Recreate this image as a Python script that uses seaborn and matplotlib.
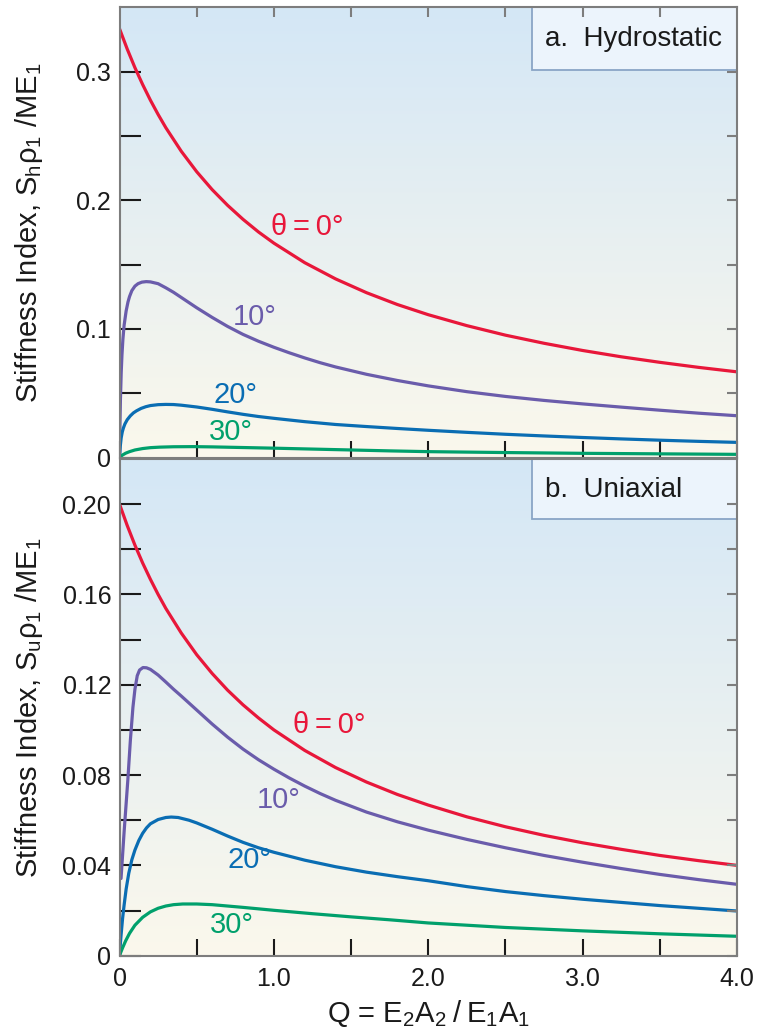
import numpy as np
import pandas as pd
import matplotlib
matplotlib.use("Agg")
import matplotlib.pyplot as plt
from matplotlib.colors import LinearSegmentedColormap
from matplotlib.patches import Rectangle
import seaborn as sns

# --- values ---
# (a) hydrostatic
q_red_a = [0, 0.05, 0.1, 0.15, 0.2, 0.25, 0.3, 0.4, 0.5, 0.6, 0.7, 0.8, 0.9, 1.0,
           1.2, 1.4, 1.6, 1.8, 2.0, 2.25, 2.5, 2.75, 3.0, 3.25, 3.5, 3.75, 4.0]
s_red_a = [0.3333, 0.3175, 0.3030, 0.2899, 0.2778, 0.2667, 0.2564, 0.2381, 0.2222,
           0.2083, 0.1961, 0.1852, 0.1754, 0.1667, 0.1515, 0.1389, 0.1282, 0.1190,
           0.1111, 0.1026, 0.0952, 0.0889, 0.0833, 0.0784, 0.0741, 0.0702, 0.0667]
q_pur_a = [0, 0.003, 0.006, 0.011, 0.016, 0.022, 0.03, 0.043, 0.055, 0.065, 0.08,
           0.1, 0.12, 0.145, 0.173, 0.2, 0.25, 0.3, 0.35, 0.4, 0.45, 0.5, 0.6, 0.7,
           0.8, 0.9, 1.0, 1.1, 1.2, 1.3, 1.4, 1.6, 1.8, 2.0, 2.25, 2.5, 2.75, 3.0,
           3.25, 3.5, 3.75, 4.0]
s_pur_a = [0, 0.026, 0.045, 0.066, 0.080, 0.092, 0.103, 0.114, 0.121, 0.1252,
           0.1298, 0.1333, 0.1352, 0.1364, 0.1368, 0.1366, 0.1352, 0.1320, 0.1285,
           0.1245, 0.1205, 0.1165, 0.1090, 0.1020, 0.0958, 0.0905, 0.0858, 0.0815,
           0.0775, 0.0738, 0.0705, 0.0648, 0.0600, 0.0558, 0.0513, 0.0476, 0.0445,
           0.0418, 0.0393, 0.0369, 0.0346, 0.0326]
q_blu_a = [0, 0.005, 0.011, 0.018, 0.025, 0.035, 0.05, 0.07, 0.09, 0.11, 0.14,
           0.17, 0.2, 0.25, 0.3, 0.35, 0.4, 0.5, 0.6, 0.7, 0.8, 0.9, 1.0, 1.2, 1.4,
           1.6, 1.8, 2.0, 2.25, 2.5, 2.75, 3.0, 3.25, 3.5, 3.75, 4.0]
s_blu_a = [0, 0.009, 0.0155, 0.020, 0.023, 0.0262, 0.0295, 0.0325, 0.0348, 0.0364,
           0.0383, 0.0396, 0.0405, 0.0412, 0.0414, 0.0413, 0.0408, 0.0394, 0.0376,
           0.0356, 0.0337, 0.0320, 0.0306, 0.0280, 0.0258, 0.0242, 0.0227, 0.0213,
           0.0197, 0.0182, 0.0169, 0.0157, 0.0146, 0.0136, 0.0127, 0.0119]
q_grn_a = [0, 0.01, 0.02, 0.04, 0.065, 0.1, 0.15, 0.2, 0.26, 0.35, 0.476, 0.6,
           0.8, 1.0, 1.25, 1.5, 1.75, 2.0, 2.5, 3.0, 3.5, 4.0]
s_grn_a = [0, 0.0012, 0.0021, 0.0035, 0.0047, 0.0060, 0.0071, 0.0078, 0.0082,
           0.0085, 0.0086, 0.0084, 0.0079, 0.0074, 0.0067, 0.0060, 0.0053, 0.0047,
           0.0040, 0.0034, 0.0030, 0.0026]

# (b) uniaxial
q_red_b = q_red_a
s_red_b = [0.2000, 0.1905, 0.1818, 0.1739, 0.1667, 0.1600, 0.1538, 0.1429, 0.1333,
           0.1250, 0.1176, 0.1111, 0.1053, 0.1000, 0.0909, 0.0833, 0.0769, 0.0714,
           0.0667, 0.0615, 0.0571, 0.0533, 0.0500, 0.0471, 0.0444, 0.0421, 0.0400]
q_pur_b = [0.01, 0.03, 0.054, 0.07, 0.087, 0.1, 0.115, 0.13, 0.152, 0.175, 0.2,
           0.25, 0.3, 0.35, 0.4, 0.5, 0.6, 0.7, 0.8, 0.9, 1.0, 1.1, 1.2, 1.3, 1.4,
           1.6, 1.8, 2.0, 2.25, 2.5, 2.75, 3.0, 3.25, 3.5, 3.75, 4.0]
s_pur_b = [0.0342, 0.055, 0.0778, 0.095, 0.1100, 0.1180, 0.1240, 0.1265, 0.1276,
           0.1275, 0.1268, 0.1243, 0.1212, 0.1180, 0.1150, 0.1088, 0.1026, 0.0968,
           0.0915, 0.0868, 0.0826, 0.0787, 0.0751, 0.0718, 0.0688, 0.0636, 0.0593,
           0.0556, 0.0515, 0.0478, 0.0444, 0.0414, 0.0386, 0.0360, 0.0337, 0.0316]
q_blu_b = [0, 0.005, 0.01, 0.02, 0.03, 0.043, 0.06, 0.08, 0.1, 0.125, 0.15, 0.175,
           0.2, 0.25, 0.3, 0.335, 0.38, 0.45, 0.5, 0.6, 0.7, 0.8, 0.9, 1.0, 1.2,
           1.4, 1.6, 1.8, 2.0, 2.25, 2.5, 2.75, 3.0, 3.25, 3.5, 3.75, 4.0]
s_blu_b = [0, 0.0048, 0.009, 0.0165, 0.0225, 0.0295, 0.0365, 0.0425, 0.0468,
           0.0510, 0.0542, 0.0566, 0.0584, 0.0603, 0.0612, 0.0614, 0.0612, 0.0600,
           0.0588, 0.0560, 0.0530, 0.0502, 0.0478, 0.0458, 0.0423, 0.0394, 0.0370,
           0.0350, 0.0332, 0.0306, 0.0284, 0.0266, 0.0250, 0.0236, 0.0222, 0.0210,
           0.0198]
q_grn_b = [0, 0.01, 0.02, 0.04, 0.065, 0.1, 0.15, 0.2, 0.25, 0.3, 0.35, 0.41, 0.5,
           0.6, 0.7, 0.8, 1.0, 1.25, 1.5, 1.75, 2.0, 2.5, 3.0, 3.5, 4.0]
s_grn_b = [0, 0.0018, 0.0035, 0.0066, 0.0099, 0.0135, 0.0170, 0.0194, 0.0210,
           0.0220, 0.0226, 0.0229, 0.0229, 0.0226, 0.0220, 0.0214, 0.0201, 0.0186,
           0.0172, 0.0159, 0.0145, 0.0125, 0.0110, 0.0097, 0.0086]

angles = ["0°", "10°", "20°", "30°"]
colors = ["#e8173a", "#6a5cab", "#0a6db3", "#00a06c"]
palette = dict(zip(angles, colors))

sns.set_theme(style="ticks")
plt.rcParams["font.family"] = ["Liberation Sans", "DejaVu Sans"]
plt.rcParams["axes.axisbelow"] = True

SPINE = "#7d7d7d"
INK = "#1a1a1a"
BG = LinearSegmentedColormap.from_list("bg", ["#fbf8ec", "#d4e7f6"])


def long_frame(curves):
    rows = []
    for ang, q, s in curves:
        rows.append(pd.DataFrame({"Q": q, "S": s, "angle": ang}))
    return pd.concat(rows, ignore_index=True)


def style_panel(ax, ymax, major, minor, ylabels, top_ticks):
    grad = np.linspace(0, 1, 256).reshape(-1, 1)
    ax.imshow(grad, cmap=BG, aspect="auto", extent=[0, 4, 0, ymax],
              origin="lower", zorder=0)
    ax.set_xlim(0, 4)
    ax.set_ylim(0, ymax)
    for sp in ax.spines.values():
        sp.set_visible(True)
        sp.set_color(SPINE)
        sp.set_linewidth(1.5)
    ax.set_yticks(major)
    ax.set_yticklabels(ylabels)
    ax.set_yticks(minor, minor=True)
    ax.set_xticks([0, 1, 2, 3, 4])
    ax.set_xticks([0.5, 1.5, 2.5, 3.5], minor=True)
    ax.tick_params(axis="y", which="both", direction="in", length=15, width=1.5,
                   color=INK, labelsize=18, pad=6, labelcolor=INK)
    ax.tick_params(axis="x", which="both", direction="in", length=12, width=1.5,
                   color=INK, labelsize=18, pad=8, labelcolor=INK)
    # grey ticks on the right (and top for panel a)
    tw = ax.twinx()
    tw.set_ylim(0, ymax)
    tw.set_yticks(sorted(list(major) + list(minor)))
    tw.tick_params(axis="y", direction="in", length=7, width=1.5, color=SPINE,
                   labelright=False)
    for sp in tw.spines.values():
        sp.set_visible(False)
    if top_ticks:
        tx = ax.twiny()
        tx.set_xlim(0, 4)
        tx.set_xticks([0.5, 1, 1.5, 2, 2.5, 3, 3.5])
        tx.tick_params(axis="x", direction="in", length=7, width=1.5, color=SPINE,
                       labeltop=False)
        for sp in tx.spines.values():
            sp.set_visible(False)


fig = plt.figure(figsize=(7.57, 10.36), dpi=100)
ax_a = fig.add_axes([119.5 / 757, 1 - 457.7 / 1036, 617.5 / 757, 450.5 / 1036])
ax_b = fig.add_axes([119.5 / 757, 1 - 955.7 / 1036, 617.5 / 757, 496.8 / 1036])

df_a = long_frame([("0°", q_red_a, s_red_a), ("10°", q_pur_a, s_pur_a),
                   ("20°", q_blu_a, s_blu_a), ("30°", q_grn_a, s_grn_a)])
df_b = long_frame([("0°", q_red_b, s_red_b), ("10°", q_pur_b, s_pur_b),
                   ("20°", q_blu_b, s_blu_b), ("30°", q_grn_b, s_grn_b)])

for ax, df in [(ax_a, df_a), (ax_b, df_b)]:
    sns.lineplot(data=df, x="Q", y="S", hue="angle", palette=palette,
                 estimator=None, linewidth=2.3, legend=False, ax=ax, zorder=2)

style_panel(ax_a, 0.35, [0, 0.1, 0.2, 0.3], [0.05, 0.15, 0.25],
            ["0", "0.1", "0.2", "0.3"], True)
style_panel(ax_b, 0.22, [0, 0.04, 0.08, 0.12, 0.16, 0.20],
            [0.02, 0.06, 0.10, 0.14, 0.18],
            ["0", "0.04", "0.08", "0.12", "0.16", "0.20"], False)

ax_a.set_xticklabels([])
ax_b.set_xticklabels(["0", "1.0", "2.0", "3.0", "4.0"])

# panel title boxes
for ax, y0, title, ty in [(ax_a, 0.861, "a.  Hydrostatic", 0.9295),
                          (ax_b, 0.879, "b.  Uniaxial", 0.9374)]:
    ax.add_patch(Rectangle((0.668, y0), 0.34, 1 - y0 + 0.01, transform=ax.transAxes,
                           facecolor="#ecf4fc", edgecolor="#8aa5c6", lw=1.3,
                           zorder=0.3, clip_on=True))
    ax.text(0.689, ty, title, transform=ax.transAxes, fontsize=20, color=INK,
            ha="left", va="center", zorder=3)

# curve labels
lab_kw = dict(fontsize=21, ha="center", va="center")
theta0 = "θ\u2009=\u20090°"
ax_a.text(1.217, 0.179, theta0, color=colors[0], **lab_kw)
ax_a.text(0.878, 0.109, "10°", color=colors[1], **lab_kw)
ax_a.text(0.754, 0.049, "20°", color=colors[2], **lab_kw)
ax_a.text(0.722, 0.0197, "30°", color=colors[3], **lab_kw)
ax_b.text(1.36, 0.1022, theta0, color=colors[0], **lab_kw)
ax_b.text(1.03, 0.0690, "10°", color=colors[1], **lab_kw)
ax_b.text(0.84, 0.0424, "20°", color=colors[2], **lab_kw)
ax_b.text(0.728, 0.0136, "30°", color=colors[3], **lab_kw)

ax_a.set_xlabel("")
ax_a.set_ylabel(r"Stiffness Index, S$_\mathregular{h}$ρ$_\mathregular{1}$ /ME$_\mathregular{1}$",
                fontsize=21, color=INK, va="center")
ax_b.set_ylabel(r"Stiffness Index, S$_\mathregular{u}$ρ$_\mathregular{1}$ /ME$_\mathregular{1}$",
                fontsize=21, color=INK, va="center")
ax_a.yaxis.set_label_coords(-0.146, 0.5)
ax_b.yaxis.set_label_coords(-0.146, 0.5)
ax_b.set_xlabel("Q = E$_\\mathregular{2}$A$_\\mathregular{2}$\u2009/\u2009E$_\\mathregular{1}$A$_\\mathregular{1}$",
                fontsize=21, color=INK, labelpad=5)

fig.savefig("out.png", dpi=100)
